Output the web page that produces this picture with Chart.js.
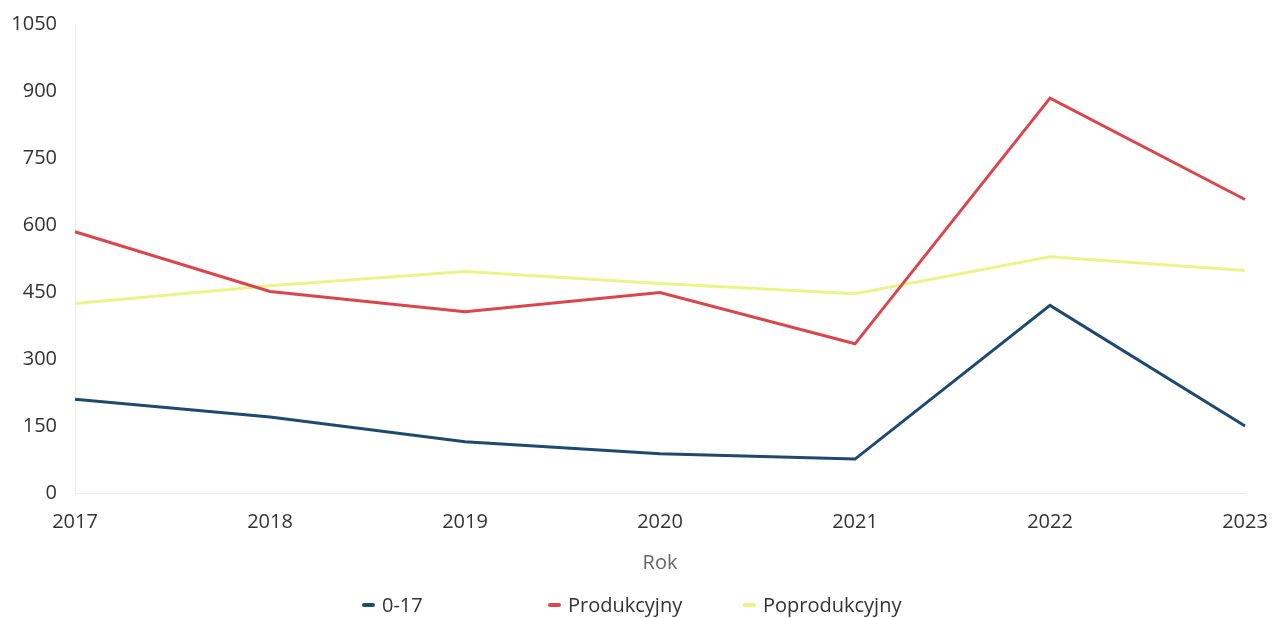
<!DOCTYPE html>
<html>
<head>
<meta charset="utf-8">
<script src="https://cdn.jsdelivr.net/npm/chart.js@4.4.1/dist/chart.umd.min.js"></script>
<style>
  html, body { margin: 0; padding: 0; background: #fff; }
  #wrap { position: relative; width: 1272px; height: 618px; }
  #chart { display: block; }
  #legend { position: absolute; left: 362px; top: 591px; display: flex; font-family: "Open Sans", sans-serif; font-size: 20px; color: #333; }
  #legend .item { display: flex; align-items: center; }
  #legend .mark { width: 13px; height: 4px; border-radius: 2px; margin-right: 7px; }
</style>
</head>
<body>
<div id="wrap">
  <canvas id="chart" width="1272" height="618"></canvas>
  <div id="legend"></div>
</div>
<script>
// data
const years = ['2017', '2018', '2019', '2020', '2021', '2022', '2023'];
const kids = [210, 170, 115, 88, 76, 420, 150];          // 0-17
const working = [585, 451, 406, 449, 334, 884, 657];     // Produkcyjny
const retired = [424, 464, 496, 469, 446, 529, 498];     // Poprodukcyjny
const yTicks = [0, 150, 300, 450, 600, 750, 900, 1050];

const seriesNames = ['0-17', 'Produkcyjny', 'Poprodukcyjny'];
const seriesColors = ['#1f4a70', '#d9474c', '#e9f58a'];
const legendWidths = [186, 195, 200];

const font = 'Open Sans';

const datasets = [kids, working, retired].map((data, i) => ({
  label: seriesNames[i],
  data: data,
  borderColor: seriesColors[i],
  backgroundColor: seriesColors[i],
  borderWidth: 3,
  pointRadius: 0,
  tension: 0
}));

// let layout.padding alone decide the plot edges
const noOverhang = (scale) => {
  scale.paddingTop = 0;
  scale.paddingBottom = 0;
  scale.paddingLeft = 0;
  scale.paddingRight = 0;
};

new Chart(document.getElementById('chart'), {
  type: 'line',
  data: { labels: years, datasets: datasets },
  options: {
    responsive: false,
    animation: false,
    layout: { padding: { top: 24, right: 27, bottom: 43, left: 0 } },
    plugins: {
      legend: { display: false },
      tooltip: { enabled: false }
    },
    scales: {
      x: {
        offset: false,
        afterFit: noOverhang,
        grid: { display: false, drawTicks: false },
        border: { display: true, color: '#eeeeee' },
        ticks: { color: '#333', padding: 17, maxRotation: 0, font: { family: font, size: 20 } },
        title: { display: true, text: 'Rok', color: '#666', padding: { top: 0, bottom: 0 }, font: { family: font, size: 20 } }
      },
      y: {
        min: 0,
        max: 1050,
        afterBuildTicks: (scale) => { scale.ticks = yTicks.map(v => ({ value: v })); },
        afterFit: (scale) => { noOverhang(scale); scale.width = 75; },
        grid: { display: false, drawTicks: false },
        border: { display: true, color: '#eeeeee' },
        ticks: { color: '#333', padding: 18, font: { family: font, size: 20 }, callback: (v) => String(v) }
      }
    }
  }
});

// legend with fixed-width columns like the reference
const legend = document.getElementById('legend');
seriesNames.forEach((name, i) => {
  const item = document.createElement('div');
  item.className = 'item';
  item.style.width = legendWidths[i] + 'px';
  const mark = document.createElement('span');
  mark.className = 'mark';
  mark.style.background = seriesColors[i];
  const txt = document.createElement('span');
  txt.textContent = name;
  item.appendChild(mark);
  item.appendChild(txt);
  legend.appendChild(item);
});
</script>
</body>
</html>
